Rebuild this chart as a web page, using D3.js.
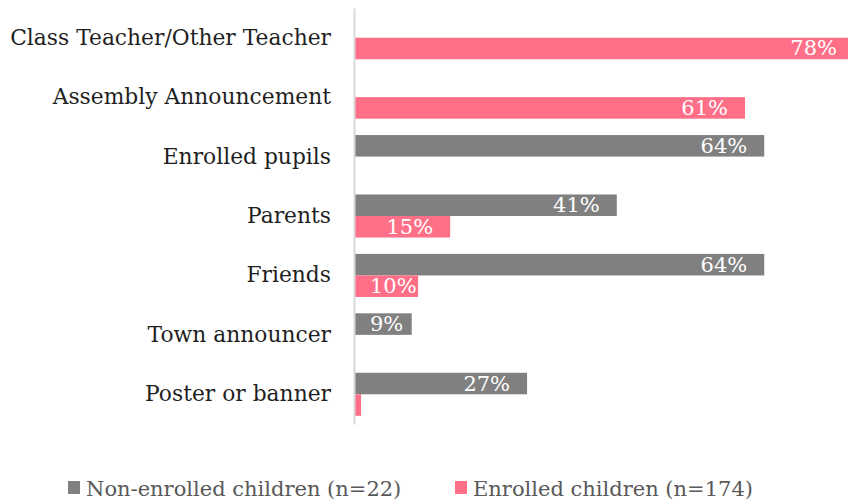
<!DOCTYPE html>
<html>
<head>
<meta charset="utf-8">
<script src="https://cdn.jsdelivr.net/npm/d3@7"></script>
<style>
  html, body { margin: 0; padding: 0; background: #fff; }
  svg { display: block; }
  text { font-family: "DejaVu Serif", "Liberation Serif", serif; }
</style>
</head>
<body>
<svg id="chart" width="848" height="504"></svg>
<script>
// Sources of information, share of children in each group
const categories = [
  "Class Teacher/Other Teacher",
  "Assembly Announcement",
  "Enrolled pupils",
  "Parents",
  "Friends",
  "Town announcer",
  "Poster or banner"
];
const seriesNames = ["Non-enrolled children (n=22)", "Enrolled children (n=174)"];
const nonEnrolled = [null, null, 0.64, 0.41, 0.64, 0.09, 0.27];
const enrolled    = [0.78, 0.61, null, 0.15, 0.10, null, 0.011];
const showLabel   = [[false, false, true, true, true, true, true],
                     [true, true, false, true, true, false, false]];
const colors = ["#808080", "#FF6F88"];

const svg = d3.select("#chart");
const W = 848, H = 504;
const plotLeft = 354, plotTop = 8, plotBottom = 424;
const fontFamily = "'DejaVu Serif', 'Liberation Serif', serif";

const x = d3.scaleLinear().domain([0, 1]).range([plotLeft, plotLeft + 641]);
const y = d3.scaleBand().domain(categories).range([plotTop, plotBottom]).paddingInner(0).paddingOuter(0);
const ySub = d3.scaleBand().domain([0, 1]).range([0, y.bandwidth()]).paddingInner(0).paddingOuter(0.38);

const clip = svg.append("defs").append("clipPath").attr("id", "plotclip");
clip.append("rect").attr("x", 0).attr("y", 0).attr("width", W).attr("height", H);

const rows = categories.map((c, i) => [
  { cat: c, s: 0, v: nonEnrolled[i], lab: showLabel[0][i] },
  { cat: c, s: 1, v: enrolled[i], lab: showLabel[1][i] }
]).flat().filter(d => d.v !== null);

const plot = svg.append("g").attr("clip-path", "url(#plotclip)");

plot.selectAll("rect.bar")
  .data(rows)
  .join("rect")
  .attr("class", "bar")
  .attr("x", x(0))
  .attr("y", d => y(d.cat) + ySub(d.s))
  .attr("width", d => x(d.v) - x(0))
  .attr("height", ySub.bandwidth())
  .attr("fill", d => colors[d.s]);

// value labels, right-aligned inside the bar end
const fmt = d3.format(".0%");
plot.selectAll("text.val")
  .data(rows.filter(d => d.lab))
  .join("text")
  .attr("class", "val")
  .attr("y", d => y(d.cat) + ySub(d.s) + ySub.bandwidth() / 2 + 7)
  .attr("fill", "#ffffff")
  .attr("font-size", 21)
  .attr("text-anchor", "end")
  .text(d => fmt(d.v))
  .each(function (d) {
    const w = this.getComputedTextLength();
    const xe = Math.max(x(d.v) - 17, x(0) + 16 + w);
    d3.select(this).attr("x", xe);
  });

// vertical category axis line
const yAxis = d3.axisLeft(y).tickSize(0).tickPadding(23);
const ax = svg.append("g").attr("transform", `translate(${plotLeft},0)`).call(yAxis);
ax.select(".domain").attr("stroke", "#d9d9d9").attr("stroke-width", 2);
ax.selectAll(".tick text")
  .attr("font-family", fontFamily)
  .attr("font-size", 21.8)
  .attr("fill", "#1f1f1f");

// legend
const legendItems = [
  { name: seriesNames[0], color: colors[0], x: 68 },
  { name: seriesNames[1], color: colors[1], x: 455 }
];
const lg = svg.append("g");
lg.selectAll("rect")
  .data(legendItems)
  .join("rect")
  .attr("x", d => d.x)
  .attr("y", 481)
  .attr("width", 12)
  .attr("height", 13)
  .attr("fill", d => d.color);
lg.selectAll("text")
  .data(legendItems)
  .join("text")
  .attr("x", d => d.x + 18)
  .attr("y", 496)
  .attr("font-size", 21)
  .attr("fill", "#595959")
  .text(d => d.name);
</script>
</body>
</html>
